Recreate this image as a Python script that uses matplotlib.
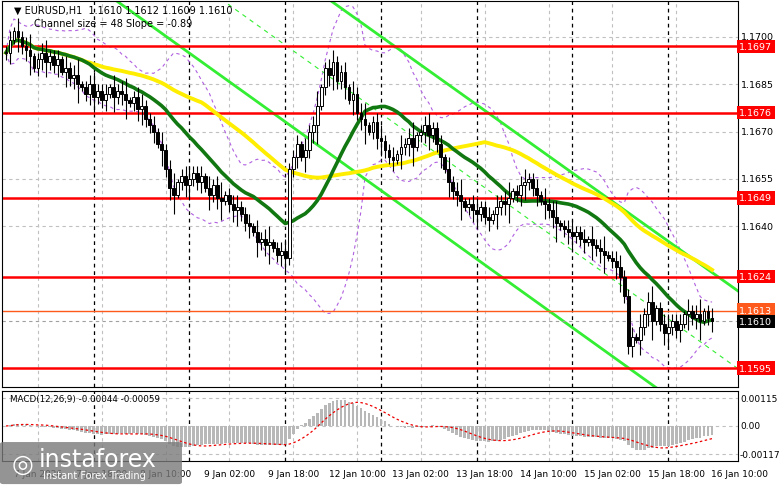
import numpy as np
import pandas as pd
import matplotlib
matplotlib.use('Agg')
import matplotlib.pyplot as plt
from matplotlib.patches import Rectangle, FancyBboxPatch

# closes in pips above 1.1600, hourly candles
closes_pips = [95, 99, 102, 100, 97, 96, 94, 90, 93, 95, 92, 94, 91, 93, 89,
               90, 87, 88, 85, 84, 82, 85, 81, 83, 80, 82, 84, 81, 83, 82,
               80, 79, 81, 77, 78, 74, 72, 70, 66, 64, 58, 52, 50, 54, 56,
               53, 55, 57, 54, 56, 52, 50, 53, 49, 48, 50, 47, 45, 46, 44,
               41, 40, 38, 35, 36, 34, 35, 33, 31, 32, 30, 58, 62, 66, 62,
               64, 70, 72, 78, 84, 90, 88, 92, 86, 89, 84, 80, 82, 76, 74,
               72, 70, 73, 68, 67, 64, 62, 61, 63, 65, 66, 68, 65, 69, 70,
               72, 69, 71, 66, 62, 58, 54, 51, 50, 48, 46, 47, 45, 44, 46,
               43, 42, 44, 46, 48, 47, 49, 51, 50, 53, 54, 55, 52, 50, 48,
               47, 45, 43, 41, 40, 39, 38, 37, 38, 36, 35, 36, 34, 33, 32,
               31, 30, 29, 27, 24, 18, 2, 5, 4, 8, 12, 16, 10, 14, 9,
               6, 8, 10, 7, 9, 12, 13, 11, 12, 10, 13, 11, 10]
wick_pips = [2, 3, 1, 4, 2, 3, 5, 1, 2, 3, 4, 2]

levels = [1.1697, 1.1676, 1.1649, 1.1624, 1.1595]
level_orange = 1.1613
last_price = 1.1610
price_ticks = [1.1700, 1.1685, 1.1670, 1.1655, 1.1640]
macd_ticks = [0.00115, 0.0, -0.00117]
macd_tick_labels = ['0.00115', '0.00', '-0.00117']
time_idx = [8, 24, 40, 56, 72, 88, 104, 120, 136, 152, 168, 184]
time_labels = ['7 Jan 2026', '7 Jan 18:00', '8 Jan 10:00', '9 Jan 02:00', '9 Jan 18:00',
               '12 Jan 10:00', '13 Jan 02:00', '13 Jan 18:00', '14 Jan 10:00',
               '15 Jan 02:00', '15 Jan 18:00', '16 Jan 10:00']
day_sep_idx = [22, 46, 70, 94, 118, 142, 166]
# channel endpoints (candle index, price)
chan_upper = [(81.5, 1.17114), (184, 1.1619)]
chan_lower = [(27.75, 1.17114), (162.75, 1.1589)]

c = 1.16 + np.array(closes_pips) / 10000
n = len(c)
o = np.r_[c[0], c[:-1]]
w = np.array([wick_pips[i % len(wick_pips)] for i in range(n)]) / 10000
hi = np.maximum(o, c) + w
lo = np.minimum(o, c) - w * 1.2
x = np.arange(n)
s = pd.Series(c)

fig = plt.figure(figsize=(7.81, 4.89), dpi=100)
ax = fig.add_axes([2/781, 1-388/489, 736/781, 386/489])
ax2 = fig.add_axes([2/781, 1-462/489, 736/781, 70/489])
xmin, xmax = -1, 183.5
ymin, ymax = 1.1589, 1.17114

for a in (ax, ax2):
    a.set_xlim(xmin, xmax)
    for t in time_idx:
        a.axvline(t, color='#c0c0c0', ls=(0, (3, 3)), lw=0.8, zorder=0)
    for d in day_sep_idx:
        a.axvline(d, color='black', ls=(0, (3, 3)), lw=0.9, zorder=0)
    a.set_xticks([])
    a.set_yticks([])
    for sp in a.spines.values():
        sp.set_color('black')
        sp.set_linewidth(0.8)

ax.set_ylim(ymin, ymax)
for p in price_ticks:
    ax.axhline(p, color='#c0c0c0', ls=(0, (3, 3)), lw=0.8, zorder=0)

# bollinger
mid = s.rolling(20, min_periods=1).mean()
sd = s.rolling(20, min_periods=1).std().fillna(0)
ax.plot(x, mid + 2 * sd, color='#b060e0', ls=(0, (3, 3)), lw=0.8)
ax.plot(x, mid - 2 * sd, color='#b060e0', ls=(0, (3, 3)), lw=0.8)

# channel
def chan(p, xs):
    (x0, y0), (x1, y1) = p
    return y0 + (y1 - y0) * (xs - x0) / (x1 - x0)
xs = np.array([xmin, xmax])
up = chan(chan_upper, xs)
lw_ = chan(chan_lower, xs)
ax.plot(xs, up, color='#33ee33', lw=2)
ax.plot(xs, lw_, color='#33ee33', lw=2)
ax.plot(xs, (up + lw_) / 2, color='#33ee33', lw=0.8, ls=(0, (4, 4)))

for lv in levels:
    ax.axhline(lv, color='#ff0000', lw=1.8, zorder=2)
ax.axhline(level_orange, color='#ff5a1e', lw=1, zorder=2)
ax.axhline(last_price, color='#a0a0a0', lw=0.8, ls=(0, (3, 3)), zorder=2)

# moving averages
ax.plot(x, s.rolling(50, min_periods=1).mean(), color='#ffee00', lw=2.8, zorder=3)
ax.plot(x, s.rolling(20, min_periods=1).mean(), color='#117711', lw=2.6, zorder=4)

# candles
for i in range(n):
    ax.vlines(i, lo[i], hi[i], color='black', lw=0.8, zorder=5)
    bot = min(o[i], c[i]); h = max(abs(c[i] - o[i]), 0.00002)
    fc = 'white' if c[i] >= o[i] else 'black'
    ax.add_patch(Rectangle((i - 0.35, bot), 0.7, h, facecolor=fc, edgecolor='black', lw=0.7, zorder=6))

ax.text(2, 1.17085, '\u25bc EURUSD,H1  1.1610 1.1612 1.1609 1.1610', fontsize=7, va='center')
ax.text(7, 1.17045, 'Channel size = 48 Slope = -0.89', fontsize=7, va='center')

# right axis labels
def tag(a, y, txt, fc, tc='white'):
    a.text(xmax + 0.3, y, txt, fontsize=6.8, color=tc, va='center', ha='left',
           bbox=dict(boxstyle='square,pad=0.25', fc=fc, ec='none'), clip_on=False)
for p in price_ticks:
    ax.text(xmax + 0.8, p, f'{p:.4f}', fontsize=6.8, va='center', ha='left', clip_on=False)
for lv in levels:
    tag(ax, lv, f'{lv:.4f}', '#ff0000')
tag(ax, level_orange + 0.00004, f'{level_orange:.4f}', '#ff5a1e')
tag(ax, last_price - 0.00002, f'{last_price:.4f}', 'black')

# MACD
e12 = s.ewm(span=12, adjust=False).mean()
e26 = s.ewm(span=26, adjust=False).mean()
macd = e12 - e26
sig = macd.rolling(9, min_periods=1).mean()
ax2.bar(x, macd, width=0.7, color='#b8b8b8')
ax2.plot(x, sig, color='#ee0000', lw=0.9, ls=(0, (2, 2)))
ax2.set_ylim(-0.00145, 0.00145)
for v, t in zip(macd_ticks, macd_tick_labels):
    ax2.axhline(v, color='#c0c0c0', ls=(0, (3, 3)), lw=0.8, zorder=0)
    ax2.text(xmax + 0.5, v, t, fontsize=6.5, va='center', ha='left', clip_on=False)
ax2.text(1, 0.00115, 'MACD(12,26,9) -0.00044 -0.00059', fontsize=6.3, va='center')

for t, lab in zip(time_idx, time_labels):
    ax2.text(t, -0.0018, lab, fontsize=6.5, ha='center', va='top', clip_on=False)

# watermark
fig.patches.append(FancyBboxPatch((0.004, 0.012), 0.225, 0.078, boxstyle='round,pad=0.004',
                                  transform=fig.transFigure, fc='#7a7a7a', ec='none', alpha=0.8))
fig.text(0.05, 0.06, 'instaforex', fontsize=17, color='white', va='center')
fig.text(0.055, 0.027, 'Instant Forex Trading', fontsize=7, color='white', va='center')
fig.text(0.015, 0.05, '\u25ce', fontsize=18, color='white', va='center')

fig.savefig('out.png', dpi=100)
